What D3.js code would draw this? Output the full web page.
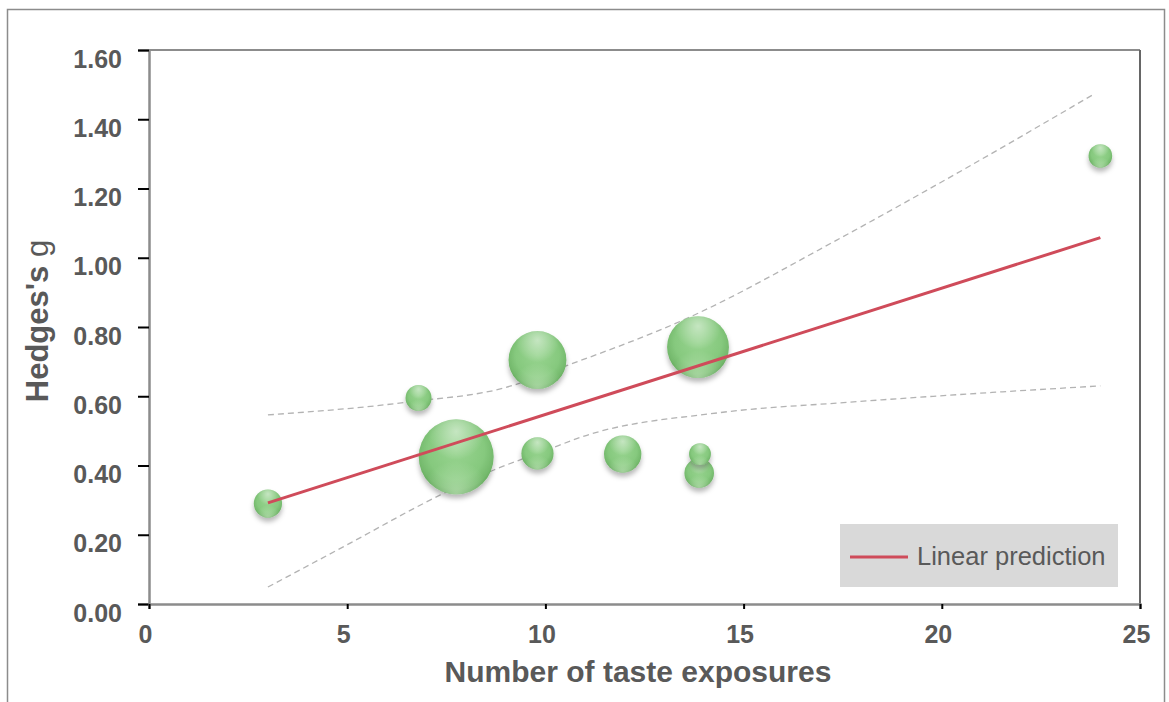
<!DOCTYPE html>
<html>
<head>
<meta charset="utf-8">
<script src="https://cdn.jsdelivr.net/npm/d3@7"></script>
<style>
  body { margin: 0; background: #fff; }
  svg { display: block; font-family: "Liberation Sans", Arial, sans-serif; }
</style>
</head>
<body>
<svg id="chart" width="1169" height="702"></svg>
<script>
// studies: exposures vs effect size, bubble area ~ weight
const exposures = [3, 6.8, 7.75, 9.8, 9.8, 11.95, 13.88, 13.9, 13.85, 24];
const hedgesG   = [0.29, 0.595, 0.425, 0.705, 0.435, 0.433, 0.378, 0.433, 0.742, 1.294];
const weights   = [20, 17, 141, 84, 26, 35, 22, 12, 96, 14];

// linear prediction and its confidence band
const predX = [3, 24];
const predY = [0.292, 1.058];
const ciUpperX = [3, 6.5, 9.2, 10.1, 13.65, 17.35, 19.95, 23.8];
const ciUpperY = [0.546, 0.583, 0.632, 0.670, 0.829, 1.051, 1.216, 1.470];
const ciLowerX = [3, 4.9, 7.35, 8.7, 10.05, 10.9, 14.35, 17.7, 24];
const ciLowerY = [0.049, 0.165, 0.315, 0.387, 0.445, 0.482, 0.552, 0.583, 0.630];

const xTicks = [0, 5, 10, 15, 20, 25];
const yTicks = [0, 0.2, 0.4, 0.6, 0.8, 1.0, 1.2, 1.4, 1.6];

const svg = d3.select('#chart');
const textColor = '#595959';

const x = d3.scaleLinear().domain([0, 25]).range([149, 1140]);
const y = d3.scaleLinear().domain([0, 1.6]).range([604, 50]);
const r = d3.scaleSqrt().domain([0, 141]).range([0, 37.5]);

// defs: ball shading + shadow
const defs = svg.append('defs');
const ball = defs.append('radialGradient').attr('id', 'ball')
    .attr('cx', '50%').attr('cy', '42%').attr('r', '58%');
ball.append('stop').attr('offset', '0%').attr('stop-color', '#98d490');
ball.append('stop').attr('offset', '65%').attr('stop-color', '#86c97e');
ball.append('stop').attr('offset', '88%').attr('stop-color', '#74b96c');
ball.append('stop').attr('offset', '100%').attr('stop-color', '#5fa458');

const shine = defs.append('radialGradient').attr('id', 'shine')
    .attr('cx', '50%').attr('cy', '16%').attr('r', '38%');
shine.append('stop').attr('offset', '0%').attr('stop-color', '#fff').attr('stop-opacity', 0.5);
shine.append('stop').attr('offset', '100%').attr('stop-color', '#fff').attr('stop-opacity', 0);

const rim = defs.append('radialGradient').attr('id', 'rim')
    .attr('cx', '50%').attr('cy', '100%').attr('r', '45%');
rim.append('stop').attr('offset', '0%').attr('stop-color', '#d8f2d2').attr('stop-opacity', 0.55);
rim.append('stop').attr('offset', '100%').attr('stop-color', '#d8f2d2').attr('stop-opacity', 0);

const shadow = defs.append('filter').attr('id', 'shadow')
    .attr('x', '-30%').attr('y', '-30%').attr('width', '160%').attr('height', '170%');
shadow.append('feDropShadow').attr('dx', 0).attr('dy', 4).attr('stdDeviation', 2.5)
    .attr('flood-color', '#000').attr('flood-opacity', 0.28);

// outer frame
svg.append('rect')
    .attr('x', 7.5).attr('y', 9.5).attr('width', 1157).attr('height', 720)
    .attr('fill', 'none').attr('stroke', '#8c8c8c').attr('stroke-width', 1.5);

// plot frame top + right
svg.append('line').attr('x1', x(0)).attr('x2', x(25)).attr('y1', y(1.6)).attr('y2', y(1.6))
    .attr('stroke', '#8c8c8c').attr('stroke-width', 2);
svg.append('line').attr('x1', x(25)).attr('x2', x(25)).attr('y1', y(1.6)).attr('y2', y(0))
    .attr('stroke', '#666').attr('stroke-width', 2);

// axes
const yAxis = svg.append('g').attr('transform', `translate(${x(0)},0)`)
    .call(d3.axisLeft(y).tickValues(yTicks).tickFormat(d3.format('.2f')).tickSize(11).tickPadding(16));
const xAxis = svg.append('g').attr('transform', `translate(0,${y(0)})`)
    .call(d3.axisBottom(x).tickValues(xTicks).tickFormat(d3.format('d')).tickSize(5));

[xAxis, yAxis].forEach(g => {
    g.select('.domain').attr('stroke', '#8c8c8c').attr('stroke-width', 2.5);
    g.selectAll('.tick line').attr('stroke', '#000').attr('stroke-width', 2);
    g.selectAll('.tick text')
        .attr('fill', textColor)
        .attr('font-size', 25)
        .attr('font-weight', 'bold')
        .attr('font-family', '"Liberation Sans", Arial, sans-serif');
});
yAxis.selectAll('.tick text').attr('dy', '0.32em').attr('y', 9);
xAxis.selectAll('.tick text').attr('dy', 0).attr('y', 39).attr('dx', -4);

// confidence band (dashed)
const line = d3.line().x(d => x(d[0])).y(d => y(d[1])).curve(d3.curveMonotoneX);
[[ciUpperX, ciUpperY], [ciLowerX, ciLowerY]].forEach(([xs, ys]) => {
    svg.append('path')
        .datum(xs.map((v, i) => [v, ys[i]]))
        .attr('d', line)
        .attr('fill', 'none')
        .attr('stroke', '#b3b3b3')
        .attr('stroke-width', 1.3)
        .attr('stroke-dasharray', '6,4');
});

// bubbles
const studies = exposures.map((v, i) => ({ x: v, g: hedgesG[i], w: weights[i] }));
const balls = svg.selectAll('g.ball')
    .data(studies)
    .enter()
    .append('g')
    .attr('class', 'ball')
    .attr('transform', d => `translate(${x(d.x)},${y(d.g)})`);

balls.append('circle').attr('r', d => r(d.w)).attr('fill', 'url(#ball)').attr('filter', 'url(#shadow)');
balls.append('circle').attr('r', d => r(d.w)).attr('fill', 'url(#rim)');
balls.append('circle').attr('r', d => r(d.w)).attr('fill', 'url(#shine)');

// linear prediction
svg.append('line')
    .attr('x1', x(predX[0])).attr('y1', y(predY[0]))
    .attr('x2', x(predX[1])).attr('y2', y(predY[1]))
    .attr('stroke', '#cf4b5a').attr('stroke-width', 3);

// legend
const legend = svg.append('g').attr('transform', 'translate(840,524)');
legend.append('rect').attr('width', 278).attr('height', 63).attr('fill', '#d9d9d9');
legend.append('line').attr('x1', 10).attr('x2', 68).attr('y1', 33).attr('y2', 33)
    .attr('stroke', '#cf4b5a').attr('stroke-width', 3);
legend.append('text').attr('x', 77).attr('y', 41)
    .attr('fill', textColor).attr('font-size', 25.5)
    .text('Linear prediction');

// axis titles
svg.append('text')
    .attr('x', 638).attr('y', 682)
    .attr('text-anchor', 'middle')
    .attr('fill', textColor).attr('font-size', 30).attr('font-weight', 'bold')
    .text('Number of taste exposures');

const yTitle = svg.append('text')
    .attr('transform', 'translate(48,321) rotate(-90)')
    .attr('text-anchor', 'middle')
    .attr('fill', textColor).attr('font-size', 31).attr('font-weight', 'bold');
yTitle.append('tspan').text("Hedges's ");
yTitle.append('tspan').attr('font-weight', 'normal').text('g');
</script>
</body>
</html>
